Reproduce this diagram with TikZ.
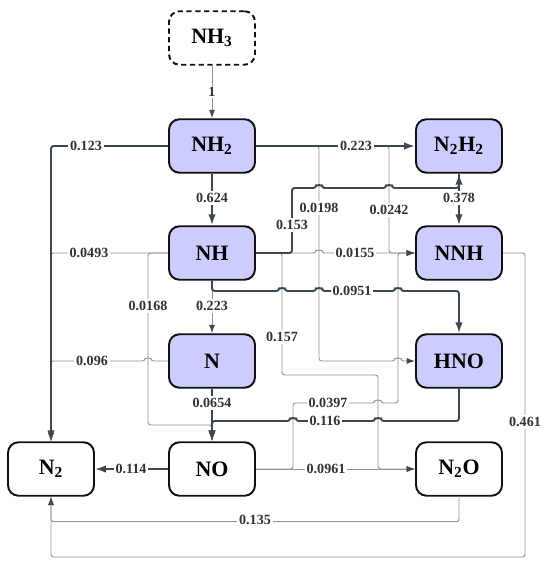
\documentclass[tikz,border=0pt]{standalone}
\usepackage{fontspec}
\setmainfont{Liberation Serif}
\usepackage{xcolor}
\usepackage{tikz}
\usetikzlibrary{arrows.meta,positioning,calc}
\definecolor{spfill}{HTML}{CCCCFF}
\definecolor{spedge}{HTML}{111111}
\definecolor{fluxdark}{HTML}{3D4852}
\definecolor{fluxgray}{HTML}{8F959B}
\definecolor{rateink}{HTML}{2E3338}
\tikzset{
  species/.style={rectangle,rounded corners=6pt,draw=spedge,line width=1.1pt,
                  fill=spfill,minimum width=1.72cm,minimum height=1.07cm,
                  font=\fontsize{12.5}{15}\selectfont\bfseries,text=black},
  product/.style={species,fill=white},
  feed/.style={species,fill=white,dash pattern=on 3pt off 2pt},
  major/.style={-{Latex[length=2.2mm,width=1.5mm]},line width=1.1pt,draw=fluxdark,rounded corners=1.5pt},
  minor/.style={-{Latex[length=1.7mm,width=1.2mm,color=fluxdark]},line width=0.55pt,draw=fluxgray,rounded corners=1.5pt},
  rate/.style={fill=white,inner sep=1pt,font=\footnotesize\bfseries,text=rateink},
}
\newcommand{\hopE}[2]{-- ({#1-3},#2) arc[start angle=180,end angle=360,radius=3]}
\newcommand{\hopW}[2]{-- ({#1+3},#2) arc[start angle=0,end angle=-180,radius=3]}

\begin{document}
\begin{tikzpicture}[x=0.02cm,y=-0.02cm]
\useasboundingbox (0,0) rectangle (550,573);
\node[feed]    (nh3)  at (212,38)  {NH\textsubscript{3}};
\node[species] (nh2)  at (212,146) {NH\textsubscript{2}};
\node[species] (n2h2) at (459,146) {N\textsubscript{2}H\textsubscript{2}};
\node[species] (nh)   at (212,253) {NH};
\node[species] (nnh)  at (459,253) {NNH};
\node[species] (n)    at (212,361) {N};
\node[species] (hno)  at (459,361) {HNO};
\node[product] (n2)   at (51,469)  {N\textsubscript{2}};
\node[product] (no)   at (212,469) {NO};
\node[product] (n2o)  at (459,469) {N\textsubscript{2}O};
% thin fluxes
\draw[minor] (nh3) -- (nh2);
\draw[minor] (nh.west) -| (n2.north);
\draw[minor] (n.west) \hopW{148}{361} -| (n2.north);
\draw[minor] (nh.west) -- (148,253) -- (148,425) -- (212,425) -- (no.north);
\draw[minor] (nh) -- (n);
\draw[minor] (nh.east) \hopE{319}{253} -- (nnh.west);
\draw[minor] (nh2.east) -- (389,146) -- (389,253) -- (nnh.west);
\draw[minor] (nh2.east) -- (319,146) -- (319,361) \hopE{398}{361} -- (hno.west);
\draw[minor] (nh.east) -- (282,253) -- (282,375) -- (378,375) -- (378,469) -- (n2o.west);
\draw[minor] (no.east) -- (293,469) -- (293,403) \hopE{378}{403} -- (398,403) -- (398,253) -- (nnh.west);
\draw[minor] (no) -- (n2o);
\draw[minor] (n2o.south) -- ++(0,25) -| (n2.south);
\draw[minor] (nnh.east) -| (525,557) -| (n2.south);
% thick fluxes
\draw[major] (nh2) -- (nh);
\draw[major] (nh2.west) -| (n2.north);
\draw[major] (nh2) -- (n2h2);
\draw[major] (nh.east) -- (292,253) -- (292,188) \hopE{319}{188} \hopE{389}{188} -- (459,188) -- (n2h2.south);
\draw[major] (n2h2) -- (nnh);
\draw[major] (nh.south) -- (212,291) \hopE{282}{291} \hopE{319}{291} \hopE{398}{291} -| (hno.north);
\draw[major] (n) -- (no);
\draw[major] (hno.south) -- (459,421) \hopW{378}{421} \hopW{293}{421} -- (212,421) -- (no.north);
\draw[major] (no) -- (n2);
% rates
\node[rate] (r-nh3-nh2)  at (212,92)  {1};
\node[rate] (r-nh2-nh)   at (212,198) {0.624};
\node[rate] (r-nh2-n2)   at (86,146)  {0.123};
\node[rate] (r-nh2-n2h2) at (356,146) {0.223};
\node[rate] (r-nh-n2)    at (89,253)  {0.0493};
\node[rate] (r-nh-n2h2)  at (292,225) {0.153};
\node[rate] (r-nh2-hno)  at (319,208) {0.0198};
\node[rate] (r-nh2-nnh)  at (389,210) {0.0242};
\node[rate] (r-n2h2-nnh) at (459,198) {0.378};
\node[rate] (r-nh-nnh)   at (355,253) {0.0155};
\node[rate] (r-nh-no)    at (148,306) {0.0168};
\node[rate] (r-nh-n)     at (212,306) {0.223};
\node[rate] (r-nh-hno)   at (352,291) {0.0951};
\node[rate] (r-nh-n2o)   at (282,337) {0.157};
\node[rate] (r-n-n2)     at (92,361)  {0.096};
\node[rate] (r-n-no)     at (212,403) {0.0654};
\node[rate] (r-no-nnh)   at (328,403) {0.0397};
\node[rate] (r-hno-no)   at (325,421) {0.116};
\node[rate] (r-nnh-n2)   at (525,422) {0.461};
\node[rate] (r-no-n2)    at (131,469) {0.114};
\node[rate] (r-no-n2o)   at (326,469) {0.0961};
\node[rate] (r-n2o-n2)   at (255,520) {0.135};
\end{tikzpicture}
\end{document}
